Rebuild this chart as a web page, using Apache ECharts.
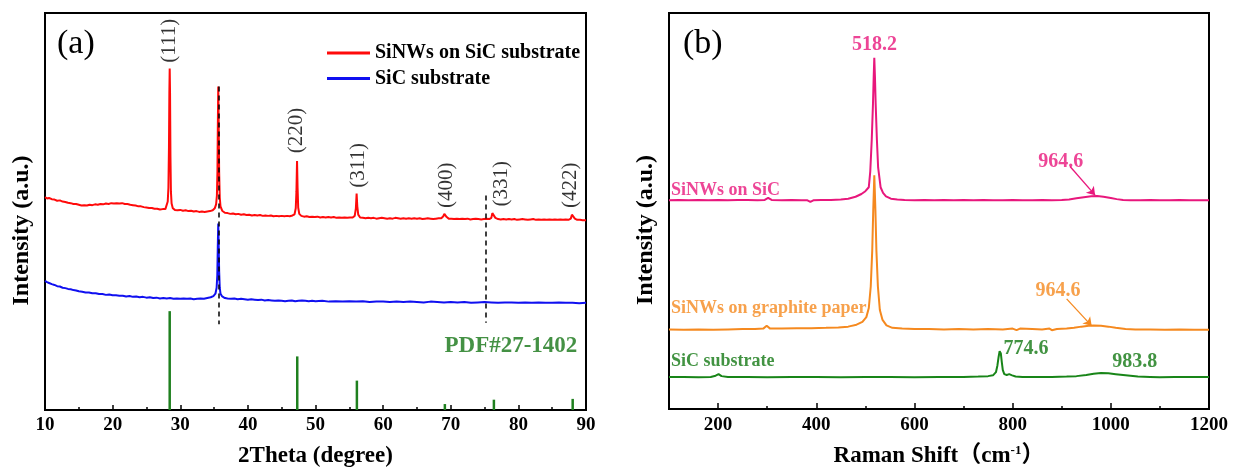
<!DOCTYPE html>
<html><head><meta charset="utf-8">
<script src="https://cdn.jsdelivr.net/npm/echarts/dist/echarts.min.js"></script>
<style>html,body{margin:0;padding:0;background:#fff}#c{width:1233px;height:473px}</style>
</head><body><div id="c"></div>
<script>
// ---------- Panel (a): XRD ----------
const xrdTicks = [10, 20, 30, 40, 50, 60, 70, 80, 90];
const xrdSiNWs = [[10.0,53.6],[10.3,53.3],[10.6,53.4],[11.0,53.1],[11.4,53.0],[11.8,52.7],[12.2,52.8],[12.6,52.5],[13.0,52.4],[13.4,52.2],[13.8,52.1],[14.2,51.9],[14.6,51.9],[15.0,51.7],[15.4,51.5],[15.8,51.6],[16.2,51.5],[16.6,51.7],[17.0,51.6],[17.4,51.8],[17.8,51.7],[18.2,51.9],[18.6,51.8],[19.0,52.0],[19.4,51.9],[19.8,52.1],[20.2,52.0],[20.6,52.1],[21.0,52.0],[21.4,52.1],[21.8,51.9],[22.2,51.9],[22.6,51.7],[23.0,51.6],[23.4,51.5],[23.8,51.3],[24.2,51.3],[24.6,51.1],[25.0,51.0],[25.4,50.9],[25.8,50.9],[26.2,50.7],[26.6,50.7],[27.0,50.5],[27.4,50.6],[27.8,50.6],[28.0,51.0],[28.15,52.5],[28.25,56],[28.33,66],[28.39,80],[28.44,86],[28.49,80],[28.55,64],[28.62,55],[28.72,52],[28.9,50.8],[29.2,50.4],[29.6,50.3],[30.0,50.4],[30.4,50.2],[30.8,50.3],[31.2,50.1],[31.6,50.2],[32.0,50.0],[32.4,50.1],[32.8,49.9],[33.2,50.0],[33.6,49.9],[34.0,50.0],[34.4,50.1],[34.8,50.3],[35.1,50.8],[35.3,51.8],[35.42,54],[35.5,60],[35.56,72],[35.62,81.5],[35.68,73],[35.75,60],[35.84,53.5],[35.95,51.3],[36.2,50.2],[36.6,49.7],[37.0,49.6],[37.4,49.4],[37.8,49.5],[38.2,49.3],[38.6,49.4],[39.0,49.2],[39.4,49.3],[39.8,49.1],[40.2,49.2],[40.6,49.0],[41.0,49.1],[41.4,49.0],[41.8,49.1],[42.2,48.9],[42.6,49.0],[43.0,48.9],[43.4,49.0],[43.8,48.8],[44.2,48.9],[44.6,48.8],[45.0,48.9],[45.4,48.8],[45.8,48.9],[46.2,48.8],[46.6,49.0],[46.9,49.3],[47.08,50.8],[47.18,55],[47.27,62.7],[47.35,56],[47.44,51],[47.6,49.4],[47.9,48.9],[48.3,48.7],[48.7,48.8],[49.1,48.6],[49.5,48.7],[49.9,48.6],[50.3,48.7],[50.7,48.5],[51.1,48.6],[51.5,48.5],[51.9,48.6],[52.3,48.5],[52.7,48.6],[53.1,48.4],[53.5,48.5],[53.9,48.4],[54.3,48.5],[54.7,48.4],[55.1,48.5],[55.5,48.5],[55.8,48.9],[55.97,50.8],[56.08,54.5],[56.18,51.3],[56.32,49.2],[56.6,48.5],[57.0,48.4],[57.4,48.3],[57.8,48.4],[58.2,48.3],[58.6,48.4],[59.0,48.2],[59.4,48.3],[59.8,48.4],[60.2,48.3],[60.6,48.2],[61.0,48.3],[61.4,48.2],[61.8,48.4],[62.2,48.3],[62.6,48.2],[63.0,48.3],[63.4,48.2],[63.8,48.3],[64.2,48.2],[64.6,48.3],[65.0,48.2],[65.4,48.3],[65.8,48.1],[66.2,48.2],[66.6,48.3],[67.0,48.2],[67.4,48.1],[67.8,48.2],[68.2,48.3],[68.6,48.3],[68.9,48.8],[69.05,49.4],[69.2,49.2],[69.4,48.6],[69.7,48.2],[70.1,48.2],[70.5,48.1],[70.9,48.2],[71.3,48.1],[71.7,48.2],[72.1,48.1],[72.5,48.2],[72.9,48.0],[73.3,48.1],[73.7,48.2],[74.1,48.1],[74.5,48.0],[74.9,48.1],[75.3,48.2],[75.7,48.1],[76.0,48.4],[76.15,49.6],[76.25,50.0],[76.38,49.3],[76.6,48.4],[77.0,48.1],[77.4,48.0],[77.8,48.1],[78.2,48.0],[78.6,48.1],[79.0,48.0],[79.4,48.1],[79.8,47.9],[80.2,48.0],[80.6,48.1],[81.0,48.0],[81.4,47.9],[81.8,48.0],[82.2,48.1],[82.6,47.9],[83.0,48.0],[83.4,47.9],[83.8,48.0],[84.2,47.9],[84.6,48.0],[85.0,47.9],[85.4,48.0],[85.8,47.9],[86.2,48.0],[86.6,47.9],[87.0,48.0],[87.4,47.9],[87.75,48.2],[87.92,49.2],[88.03,49.6],[88.15,49.1],[88.35,48.2],[88.7,47.9],[89.1,47.9],[89.5,47.8],[90.0,47.8]];
const xrdSiC = [[10.0,32.5],[10.3,32.2],[10.6,32.0],[11.0,31.7],[11.4,31.5],[11.8,31.2],[12.2,31.1],[12.6,30.8],[13.0,30.7],[13.4,30.5],[13.8,30.4],[14.2,30.2],[14.6,30.1],[15.0,29.9],[15.5,29.8],[16.0,29.6],[16.5,29.6],[17.0,29.4],[17.5,29.4],[18.0,29.2],[18.5,29.2],[19.0,29.0],[19.5,29.1],[20.0,28.9],[20.5,28.9],[21.0,28.8],[21.5,28.8],[22.0,28.6],[22.5,28.7],[23.0,28.5],[23.5,28.6],[24.0,28.4],[24.5,28.5],[25.0,28.3],[25.5,28.4],[26.0,28.2],[26.5,28.3],[27.0,28.1],[27.5,28.2],[28.0,28.1],[28.5,28.2],[29.0,28.0],[29.5,28.1],[30.0,28.0],[30.5,28.1],[31.0,28.0],[31.5,28.1],[32.0,27.9],[32.5,28.0],[33.0,28.1],[33.5,28.0],[34.0,28.2],[34.5,28.4],[34.9,28.7],[35.2,29.3],[35.38,30.8],[35.48,34],[35.55,41],[35.62,47],[35.68,42],[35.75,35],[35.84,30.8],[35.95,29.3],[36.2,28.6],[36.6,28.2],[37.0,28.1],[37.5,28.0],[38.0,28.1],[38.5,27.9],[39.0,28.0],[39.5,27.9],[40.0,27.8],[40.5,27.9],[41.0,27.8],[41.5,27.7],[42.0,27.8],[42.5,27.6],[43.0,27.7],[43.5,27.6],[44.0,27.5],[44.5,27.6],[45.0,27.5],[45.5,27.4],[46.0,27.5],[46.5,27.6],[47.0,27.4],[47.5,27.5],[48.0,27.6],[48.5,27.5],[49.0,27.4],[49.5,27.5],[50.0,27.4],[51,27.5],[52,27.3],[53,27.4],[54,27.3],[55,27.4],[56,27.3],[57,27.4],[58,27.2],[59,27.3],[60,27.3],[61,27.2],[62,27.3],[63,27.2],[64,27.3],[65,27.2],[66,27.1],[67,27.3],[68,27.2],[69,27.1],[70,27.2],[71,27.1],[72,27.2],[73,27.0],[74,27.1],[75,27.2],[76,27.1],[77,27.0],[78,27.1],[79,27.1],[80,27.0],[81,27.1],[82,27.0],[83,27.1],[84,27.0],[85,27.0],[86,27.1],[87,27.0],[88,27.0],[89,26.9],[90,27.0]];
const pdfSticks = [[28.44,24.9],[47.30,13.5],[56.12,7.4],[69.13,1.5],[76.38,2.6],[88.03,2.8]];
const hklLabels = [[28.35,93,'(111)'],[47.2,70.4,'(220)'],[56.3,61.6,'(311)'],[69.4,56.6,'(400)'],[77.5,57,'(331)'],[87.7,56.6,'(422)']];
const pdfLabel = [[78.9,16,'PDF#27-1402']];
const dashedLines = [[35.62,81.5,21.6],[75.2,54,22]];

// ---------- Panel (b): Raman ----------
const ramanMajorTicks = [200, 400, 600, 800, 1000, 1200];
const ramanMinorTicks = [300, 500, 700, 900, 1100];
const ramanSiNWsSiC = [[100,52.7],[120,52.8],[140,52.7],[160,52.8],[180,52.7],[200,52.8],[220,52.7],[240,52.8],[260,52.8],[280,52.7],[295,52.8],[302,53.3],[309,52.8],[330,52.7],[350,52.8],[370,52.7],[382,52.7],[388,52.3],[394,52.7],[410,52.8],[430,52.8],[450,52.9],[465,53.1],[480,53.6],[492,54.3],[500,55.0],[507,56.0],[510,60],[513,68],[515.5,77],[517,84],[518.2,88.7],[519.5,84],[521,77],[523.5,68],[526,61],[531,56],[536,54.6],[542,53.7],[552,53.1],[565,52.9],[580,52.8],[600,52.7],[620,52.8],[640,52.7],[660,52.8],[680,52.7],[700,52.8],[720,52.7],[740,52.8],[760,52.7],[780,52.7],[800,52.8],[820,52.7],[840,52.7],[860,52.8],[880,52.7],[900,52.8],[915,52.9],[930,53.2],[945,53.5],[960,53.7],[972,53.8],[985,53.6],[1000,53.3],[1012,53.0],[1025,52.8],[1040,52.7],[1060,52.7],[1080,52.8],[1100,52.7],[1120,52.7],[1140,52.8],[1160,52.7],[1180,52.7],[1200,52.7]];
const ramanSiNWsGraphite = [[100,20.1],[130,20.0],[160,20.1],[190,20.0],[220,20.1],[250,20.2],[275,20.2],[292,20.3],[299,21.0],[306,20.3],[330,20.3],[360,20.4],[390,20.4],[420,20.5],[445,20.6],[465,20.8],[482,21.3],[494,22.0],[502,23.2],[507,25.5],[511,31],[514,40],[516,50],[517.5,56],[518.2,59],[519,56],[520.5,50],[522.5,40],[525.5,31],[529.5,25],[535,22.5],[543,21.1],[555,20.5],[575,20.3],[600,20.2],[630,20.2],[660,20.1],[690,20.2],[720,20.1],[750,20.2],[780,20.1],[800,20.3],[808,19.9],[815,20.3],[840,20.2],[860,20.1],[875,20.3],[880,19.9],[890,20.2],[910,20.3],[925,20.5],[940,20.8],[955,21.0],[965,21.1],[980,21.0],[995,20.8],[1010,20.5],[1030,20.2],[1050,20.1],[1080,20.1],[1110,20.0],[1140,20.1],[1170,20.0],[1200,20.0]];
const ramanSiC = [[100,8.1],[130,8.1],[160,8.0],[185,8.1],[195,8.4],[201,8.8],[207,8.3],[220,8.1],[260,8.1],[300,8.0],[350,8.1],[400,8.1],[450,8.0],[500,8.1],[550,8.1],[600,8.0],[650,8.1],[700,8.1],[730,8.2],[750,8.3],[760,8.5],[766,9.3],[769,11],[771.5,13.2],[773.5,14.6],[774.6,14.75],[776,14.0],[778,11.8],[780,9.8],[783,8.8],[788,8.6],[793,8.8],[799,8.5],[806,8.2],[820,8.1],[850,8.1],[880,8.1],[910,8.2],[930,8.3],[950,8.6],[965,8.9],[980,9.1],[995,9.0],[1010,8.8],[1025,8.6],[1040,8.4],[1055,8.2],[1080,8.1],[1100,8.0],[1130,8.1],[1160,8.1],[1200,8.1]];
const ramanPeakLabels = [[518.6,92,'518.2','pink'],[898,62.4,'964.6','pink'],[892.6,29.9,'964.6','orange'],[827,15.1,'774.6','greenText'],[1049,12,'983.8','greenText']];
const ramanSeriesLabels = [[104,55.3,'SiNWs on SiC','pink'],[104,25.3,'SiNWs on graphite paper','orange'],[104,12,'SiC substrate','greenText']];
const ramanArrows = [[917,61.25,968,54,'pink'],[910,27.8,961,21,'orange']];

const C = {red:'#ff0a0a', blue:'#1010f0', pdf:'#1f801f', pdfText:'#157515', pink:'#e8177c', orange:'#f5891f', green:'#188518', greenText:'#137813'};
const serif = '"Liberation Serif","Times New Roman","DejaVu Serif",serif';
const serifCJK = '"Liberation Serif","Noto Sans CJK SC",serif';

function textSeries(gi, items, lab) {
  return {
    type:'scatter', xAxisIndex: gi === 0 ? 0 : 1, yAxisIndex: gi, symbolSize:0.1, silent:true, z:10,
    itemStyle:{color:'transparent'},
    data: items.map(d => ({value:[d[0], d[1]], name:d[2], label: d[3] ? {color: C[d[3]]} : {}})),
    label: Object.assign({show:true, formatter: p => p.name, fontFamily: serif, color:'#000'}, lab)
  };
}

const axisText = {color:'#000', fontFamily: serif, fontWeight:'bold', fontSize:19, formatter: v => String(v)};
const nameText = {color:'#000', fontFamily: serif, fontWeight:'bold', fontSize:23};
const yName = {color:'#000', fontFamily: serif, fontWeight:'bold', fontSize:24, padding:[0,38,0,0]};

const option = {
  animation:false,
  backgroundColor:'#fff',
  title:[
    {text:'(a)', left:57, top:27, padding:0, textStyle:{fontFamily:serif, fontWeight:'normal', fontSize:34, color:'#000'}},
    {text:'(b)', left:683, top:27, padding:0, textStyle:{fontFamily:serif, fontWeight:'normal', fontSize:34, color:'#000'}}
  ],
  legend:{
    data:['SiNWs on SiC substrate','SiC substrate'], orient:'vertical', left:327, top:42,
    icon:'rect', itemWidth:43, itemHeight:3, itemGap:3.6, padding:0, selectedMode:false,
    textStyle:{fontFamily:serif, fontWeight:'bold', fontSize:20, lineHeight:22, color:'#000'}
  },
  grid:[
    {left:45, top:13, width:541, height:400, show:true, borderColor:'#000', borderWidth:2, backgroundColor:'transparent'},
    {left:669, top:13, width:540, height:400, show:true, borderColor:'#000', borderWidth:2, backgroundColor:'transparent'}
  ],
  xAxis:[
    {gridIndex:0, type:'value', min:xrdTicks[0], max:xrdTicks[xrdTicks.length-1], interval:10,
     axisLine:{show:false},
     axisTick:{show:true, inside:true, length:5, lineStyle:{color:'#000', width:1.5}},
     minorTick:{show:true, splitNumber:2, length:3, lineStyle:{color:'#000', width:1.5}},
     splitLine:{show:false}, minorSplitLine:{show:false},
     axisLabel:Object.assign({margin:6}, axisText),
     name:'2Theta (degree)', nameLocation:'middle', nameGap:35, nameTextStyle:nameText},
    {gridIndex:1, type:'value', min:100, max:1200, interval:100, position:'bottom',
     axisLine:{show:false},
     axisTick:{show:true, inside:true, length:6, customValues:ramanMajorTicks, lineStyle:{color:'#000', width:1.5}},
     splitLine:{show:false},
     axisLabel:Object.assign({margin:7, customValues:ramanMajorTicks}, axisText),
     name:'Raman Shift（cm{sup|-1}）', nameLocation:'middle', nameGap:35,
     nameTextStyle:Object.assign({}, nameText, {fontFamily:serifCJK, rich:{sup:{fontSize:13, fontWeight:'bold', fontFamily:serif, color:'#000', padding:[0,0,12,0]}}})},
    {gridIndex:1, type:'value', min:100, max:1200, interval:100, position:'bottom',
     axisLine:{show:false},
     axisTick:{show:true, inside:true, length:3, customValues:ramanMinorTicks, lineStyle:{color:'#000', width:1.5}},
     splitLine:{show:false}, axisLabel:{show:false}}
  ],
  yAxis:[
    {gridIndex:0, type:'value', min:0, max:100, axisLine:{show:false}, axisTick:{show:false}, axisLabel:{show:false}, splitLine:{show:false},
     name:'Intensity (a.u.)', nameLocation:'middle', nameRotate:90, nameGap:11, nameTextStyle:yName},
    {gridIndex:1, type:'value', min:0, max:100, axisLine:{show:false}, axisTick:{show:false}, axisLabel:{show:false}, splitLine:{show:false},
     name:'Intensity (a.u.)', nameLocation:'middle', nameRotate:90, nameGap:11, nameTextStyle:yName}
  ],
  series:[
    {name:'SiNWs on SiC substrate', type:'line', xAxisIndex:0, yAxisIndex:0, data:xrdSiNWs, symbol:'none', z:2,
     lineStyle:{color:C.red, width:2}, itemStyle:{color:C.red}},
    {name:'SiC substrate', type:'line', xAxisIndex:0, yAxisIndex:0, data:xrdSiC, symbol:'none', z:3,
     lineStyle:{color:C.blue, width:2}, itemStyle:{color:C.blue},
     markLine:{silent:true, symbol:['none','none'], label:{show:false}, animation:false,
       lineStyle:{color:'#000', type:[5,4], width:1.5},
       data: dashedLines.map(d => [{coord:[d[0], d[1]]}, {coord:[d[0], d[2]]}])}},
    {name:'PDF#27-1402', type:'bar', xAxisIndex:0, yAxisIndex:0, data:pdfSticks, barWidth:2.5,
     itemStyle:{color:C.pdf}, silent:true},
    textSeries(0, hklLabels, {position:'inside', rotate:90, fontSize:21, fontWeight:'normal'}),
    textSeries(0, pdfLabel, {position:'inside', fontSize:23, fontWeight:'bold', color:C.pdfText}),

    {name:'Raman SiNWs on SiC', type:'line', xAxisIndex:1, yAxisIndex:1, data:ramanSiNWsSiC, symbol:'none', z:2,
     lineStyle:{color:C.pink, width:2}, itemStyle:{color:C.pink},
     markLine:{silent:true, symbol:['none','arrow'], symbolSize:8, label:{show:false}, animation:false,
       lineStyle:{color:C.pink, type:'solid', width:1.3},
       data: ramanArrows.filter(a => a[4]==='pink').map(a => [{coord:[a[0],a[1]]},{coord:[a[2],a[3]]}])}},
    {name:'Raman SiNWs on graphite paper', type:'line', xAxisIndex:1, yAxisIndex:1, data:ramanSiNWsGraphite, symbol:'none', z:3,
     lineStyle:{color:C.orange, width:2}, itemStyle:{color:C.orange},
     markLine:{silent:true, symbol:['none','arrow'], symbolSize:8, label:{show:false}, animation:false,
       lineStyle:{color:C.orange, type:'solid', width:1.3},
       data: ramanArrows.filter(a => a[4]==='orange').map(a => [{coord:[a[0],a[1]]},{coord:[a[2],a[3]]}])}},
    {name:'Raman SiC substrate', type:'line', xAxisIndex:1, yAxisIndex:1, data:ramanSiC, symbol:'none', z:4,
     lineStyle:{color:C.green, width:2}, itemStyle:{color:C.green}},
    textSeries(1, ramanPeakLabels, {position:'inside', fontSize:20, fontWeight:'bold'}),
    textSeries(1, ramanSeriesLabels, {position:'right', distance:0, fontSize:18, fontWeight:'bold'})
  ]
};

const chart = echarts.init(document.getElementById('c'), null, {renderer:'canvas'});
chart.setOption(option);
</script>
</body></html>
